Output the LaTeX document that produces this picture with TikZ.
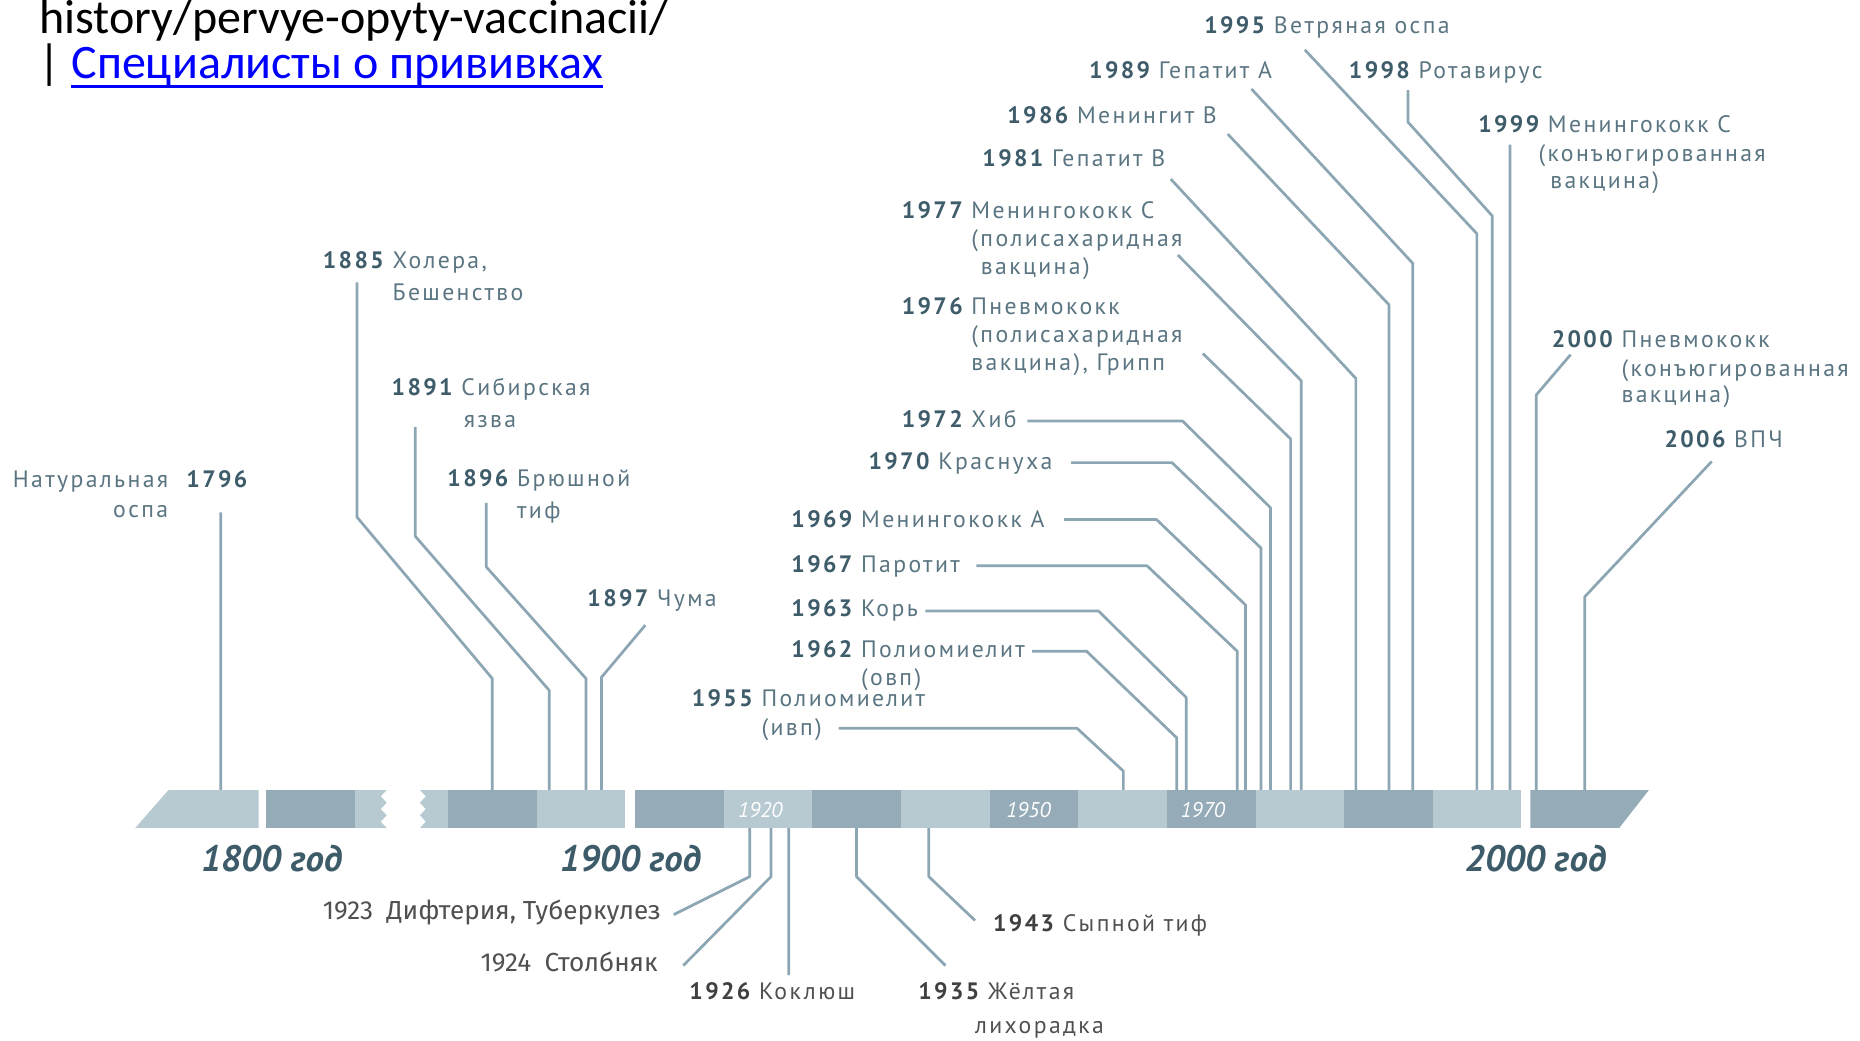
\documentclass[tikz,border=0pt]{standalone}
\usepackage{fontspec}
\usetikzlibrary{positioning}
\newfontfamily\labelfont{PT Sans}[LetterSpace=10]
\newfontfamily\decfont{PT Sans}
\newfontfamily\lowfont{Fira Sans}
\newfontfamily\headfont{Carlito}
\definecolor{yrc}{HTML}{3E5C69}
\definecolor{nmc}{HTML}{5A7581}
\definecolor{leadc}{HTML}{8CA6B3}
\definecolor{bardark}{HTML}{95ABB7}
\definecolor{barlight}{HTML}{B8CAD1}
\definecolor{lowc}{HTML}{404040}
\definecolor{lownmc}{HTML}{505050}
\definecolor{decc}{HTML}{3D5B69}
\definecolor{linkc}{HTML}{0000FF}
\tikzset {
    yr/.style={inner sep=0pt, anchor=base west, text=yrc, font=\labelfont\bfseries\fontsize{20}{24}\selectfont},
    nm/.style={inner sep=0pt, anchor=base west, text=nmc, font=\labelfont\fontsize{20}{24}\selectfont},
    lowyr/.style={yr, text=lowc},
    lownm/.style={nm, text=lownmc},
    fira/.style={inner sep=0pt, anchor=base west, text=lownmc, font=\lowfont\fontsize{22}{26}\selectfont},
    decade/.style={inner sep=0pt, anchor=base, text=decc, font=\decfont\bfseries\itshape\fontsize{31}{37}\selectfont},
    inbar/.style={inner sep=0pt, anchor=base, text=white, font=\decfont\itshape\fontsize{18}{22}\selectfont},
    head/.style={inner sep=0pt, anchor=base west, font=\headfont\fontsize{40.5}{48}\selectfont},
    lead/.style={draw=leadc, line width=2.3pt, line join=round}
}

\begin{document}
\begin{tikzpicture}[x=1pt, y=-1pt]
\useasboundingbox (0,0) rectangle (1568,877);

\node[head] (src) at (33,28) {history/pervye-opyty-vaccinacii/};
\node[head, text=linkc] (link) at (60,66.6) {Специалисты о прививках};
\node[head, base left=9pt of link] (sep) {|};
\draw[linkc, line width=2.4pt] ([yshift=-6pt]link.base west) -- ([yshift=-6pt]link.base east);

\node[yr] (y1796) at (157,411) {1796};
\node[nm, base left=15pt of y1796] (n1796) {Натуральная};
\node[nm, anchor=base east] (m1796) at ([yshift=-25pt]n1796.base east) {оспа};

\node[yr] (y1885) at (272,226) {1885};
\node[nm, base right=7pt of y1885] (n1885) {Холера,};
\node[nm] (m1885) at ([yshift=-27pt]n1885.base west) {Бешенство};

\node[yr] (y1891) at (330,333) {1891};
\node[nm, base right=7pt of y1891] (n1891) {Сибирская};
\node[nm] (m1891) at ([xshift=2pt, yshift=-27pt]n1891.base west) {язва};

\node[yr] (y1896) at (377,410) {1896};
\node[nm, base right=7pt of y1896] (n1896) {Брюшной};
\node[nm] (m1896) at ([yshift=-27pt]n1896.base west) {тиф};

\node[yr] (y1897) at (495,511) {1897};
\node[nm, base right=7pt of y1897] (n1897) {Чума};

\node[yr] (y1955) at (583,596) {1955};
\node[nm, base right=7pt of y1955] (n1955) {Полиомиелит};
\node[nm] (m1955) at ([yshift=-24pt]n1955.base west) {(ивп)};

\node[yr] (y1962) at (667,554) {1962};
\node[nm, base right=7pt of y1962] (n1962) {Полиомиелит};
\node[nm] (m1962) at ([yshift=-24pt]n1962.base west) {(овп)};

\node[yr] (y1963) at (667,520) {1963};
\node[nm, base right=7pt of y1963] (n1963) {Корь};

\node[yr] (y1967) at (667,483) {1967};
\node[nm, base right=7pt of y1967] (n1967) {Паротит};

\node[yr] (y1969) at (667,445) {1969};
\node[nm, base right=7pt of y1969] (n1969) {Менингококк А};

\node[yr] (y1970) at (732,396) {1970};
\node[nm, base right=7pt of y1970] (n1970) {Краснуха};

\node[yr] (y1972) at (760,360) {1972};
\node[nm, base right=7pt of y1972] (n1972) {Хиб};

\node[yr] (y1976) at (760,265) {1976};
\node[nm, base right=7pt of y1976] (n1976) {Пневмококк};
\node[nm] (m1976) at ([yshift=-24pt]n1976.base west) {(полисахаридная};
\node[nm] (k1976) at ([yshift=-47pt]n1976.base west) {вакцина), Грипп};

\node[yr] (y1977) at (760,184) {1977};
\node[nm, base right=7pt of y1977] (n1977) {Менингококк С};
\node[nm] (m1977) at ([yshift=-24pt]n1977.base west) {(полисахаридная};
\node[nm] (k1977) at ([xshift=8pt, yshift=-47pt]n1977.base west) {вакцина)};

\node[yr] (y1981) at (828,140) {1981};
\node[nm, base right=7pt of y1981] (n1981) {Гепатит В};

\node[yr] (y1986) at (849,104) {1986};
\node[nm, base right=7pt of y1986] (n1986) {Менингит В};

\node[yr] (y1989) at (918,66) {1989};
\node[nm, base right=7pt of y1989] (n1989) {Гепатит А};

\node[yr] (y1995) at (1015,28) {1995};
\node[nm, base right=7pt of y1995] (n1995) {Ветряная оспа};

\node[yr] (y1998) at (1137,66) {1998};
\node[nm, base right=7pt of y1998] (n1998) {Ротавирус};

\node[yr] (y1999) at (1246,112) {1999};
\node[nm, base right=7pt of y1999] (n1999) {Менингококк С};
\node[nm] (m1999) at ([xshift=-8pt, yshift=-24pt]n1999.base west) {(конъюгированная};
\node[nm] (k1999) at ([xshift=2pt, yshift=-47pt]n1999.base west) {вакцина)};

\node[yr] (y2000) at (1308,293) {2000};
\node[nm, base right=7pt of y2000] (n2000) {Пневмококк};
\node[nm] (m2000) at ([yshift=-24pt]n2000.base west) {(конъюгированная};
\node[nm] (k2000) at ([yshift=-46pt]n2000.base west) {вакцина)};

\node[yr] (y2006) at (1403,377) {2006};
\node[nm, base right=7pt of y2006] (n2006) {ВПЧ};

\node[fira] (y1923) at (272,775) {1923};
\node[fira, base right=11pt of y1923] (n1923) {Дифтерия, Туберкулез};

\node[fira] (y1924) at (405,819) {1924};
\node[fira, base right=11pt of y1924] (n1924) {Столбняк};

\node[lowyr] (y1926) at (581,843) {1926};
\node[lownm, base right=7pt of y1926] (n1926) {Коклюш};

\node[lowyr] (y1935) at (774,843) {1935};
\node[lownm, base right=7pt of y1935] (n1935) {Жёлтая};
\node[lownm] (m1935) at ([xshift=-11pt, yshift=-28pt]n1935.base west) {лихорадка};

\node[lowyr] (y1943) at (837,785) {1943};
\node[lownm, base right=7pt of y1943] (n1943) {Сыпной тиф};

\foreach \n/\x/\y in {1796/186/432, 1885/301/238, 1891/350/360, 1896/410/424, 1897/544/527,
    1955/707/614, 1962/870/549, 1963/780/515, 1967/823/477, 1969/897/438, 1970/903/390,
    1972/866/355, 1976/1014/298, 1977/993/215, 1981/987/151, 1986/1035/113, 1989/1055/75,
    1995/1100/42, 1998/1187/76, 1999/1273/122, 2000/1324/299, 2006/1443/389,
    1923/568/771, 1924/576/814, 1926/665/822, 1935/797/814, 1943/822/776}
    \coordinate (s\n) at (\x,\y);
\foreach \n/\x in {1796/186, 1885/415, 1891/463, 1896/494, 1897/507, 1955/947, 1962/992,
    1963/1000, 1967/1043, 1969/1050, 1970/1063, 1972/1071, 1976/1088, 1977/1097, 1981/1143,
    1986/1171, 1989/1191, 1995/1245, 1998/1258, 1999/1273, 2000/1295, 2006/1336}
    \coordinate (t\n) at (\x,666);
\foreach \n/\x in {1923/632, 1924/650, 1926/665, 1935/722, 1943/783}
    \coordinate (t\n) at (\x,698);

\draw[lead]
    (s1796) -- (t1796)
    (s1885) -- (301,436) -- (415,572) -- (t1885)
    (s1891) -- (350,452) -- (463,582) -- (t1891)
    (s1896) -- (410,478) -- (494,572) -- (t1896)
    (s1897) -- (507,571) -- (t1897)
    (s1955) -- (908,614) -- (947,650) -- (t1955)
    (s1962) -- (916,549) -- (992,622) -- (t1962)
    (s1963) -- (926,515) -- (1000,588) -- (t1963)
    (s1967) -- (967,477) -- (1043,549) -- (t1967)
    (s1969) -- (975,438) -- (1050,510) -- (t1969)
    (s1970) -- (988,390) -- (1063,462) -- (t1970)
    (s1972) -- (997,355) -- (1071,428) -- (t1972)
    (s1976) -- (1088,370) -- (t1976)
    (s1977) -- (1097,321) -- (t1977)
    (s1981) -- (1143,319) -- (t1981)
    (s1986) -- (1171,257) -- (t1986)
    (s1989) -- (1191,222) -- (t1989)
    (s1995) -- (1245,197) -- (t1995)
    (s1998) -- (1187,103) -- (1258,182) -- (t1998)
    (s1999) -- (t1999)
    (s2000) -- (1295,333) -- (t2000)
    (s2006) -- (1336,503) -- (t2006);
\draw[lead]
    (t1923) -- (632,739) -- (s1923)
    (t1924) -- (650,739) -- (s1924)
    (t1926) -- (s1926)
    (t1935) -- (722,739) -- (s1935)
    (t1943) -- (783,739) -- (s1943);

\fill[barlight] (114,698) -- (142,666) -- (218,666) -- (218,698) -- cycle;
\fill[barlight] (298,666) -- (326,666) -- (321,671.3) -- (326,676.7) -- (321,682)
    -- (326,687.3) -- (321,692.7) -- (326,698) -- (298,698) -- cycle;
\fill[barlight] (354,666) -- (378,666) -- (378,698) -- (354,698) -- (359,692.7)
    -- (354,687.3) -- (359,682) -- (354,676.7) -- (359,671.3) -- cycle;
\foreach \x/\c in {224.5/bardark, 377.6/bardark, 452.3/barlight, 535.5/bardark, 610.2/barlight,
    684.9/bardark, 759.6/barlight, 834.3/bardark, 909/barlight, 983.7/bardark, 1058.4/barlight,
    1133.1/bardark, 1207.8/barlight}
    \fill[\c] (\x,666) rectangle ++(74.7,32);
\fill[bardark] (1290,666) -- (1390,666) -- (1365,698) -- (1290,698) -- cycle;

\node[inbar] (b1920) at (641,689) {1920};
\node[inbar] (b1950) at (867,689) {1950};
\node[inbar] (b1970) at (1014,689) {1970};

\node[decade] (d1800) at (229,735) {1800 год};
\node[decade] (d1900) at (531.5,735) {1900 год};
\node[decade] (d2000) at (1294.5,735) {2000 год};
\end{tikzpicture}
\end{document}
